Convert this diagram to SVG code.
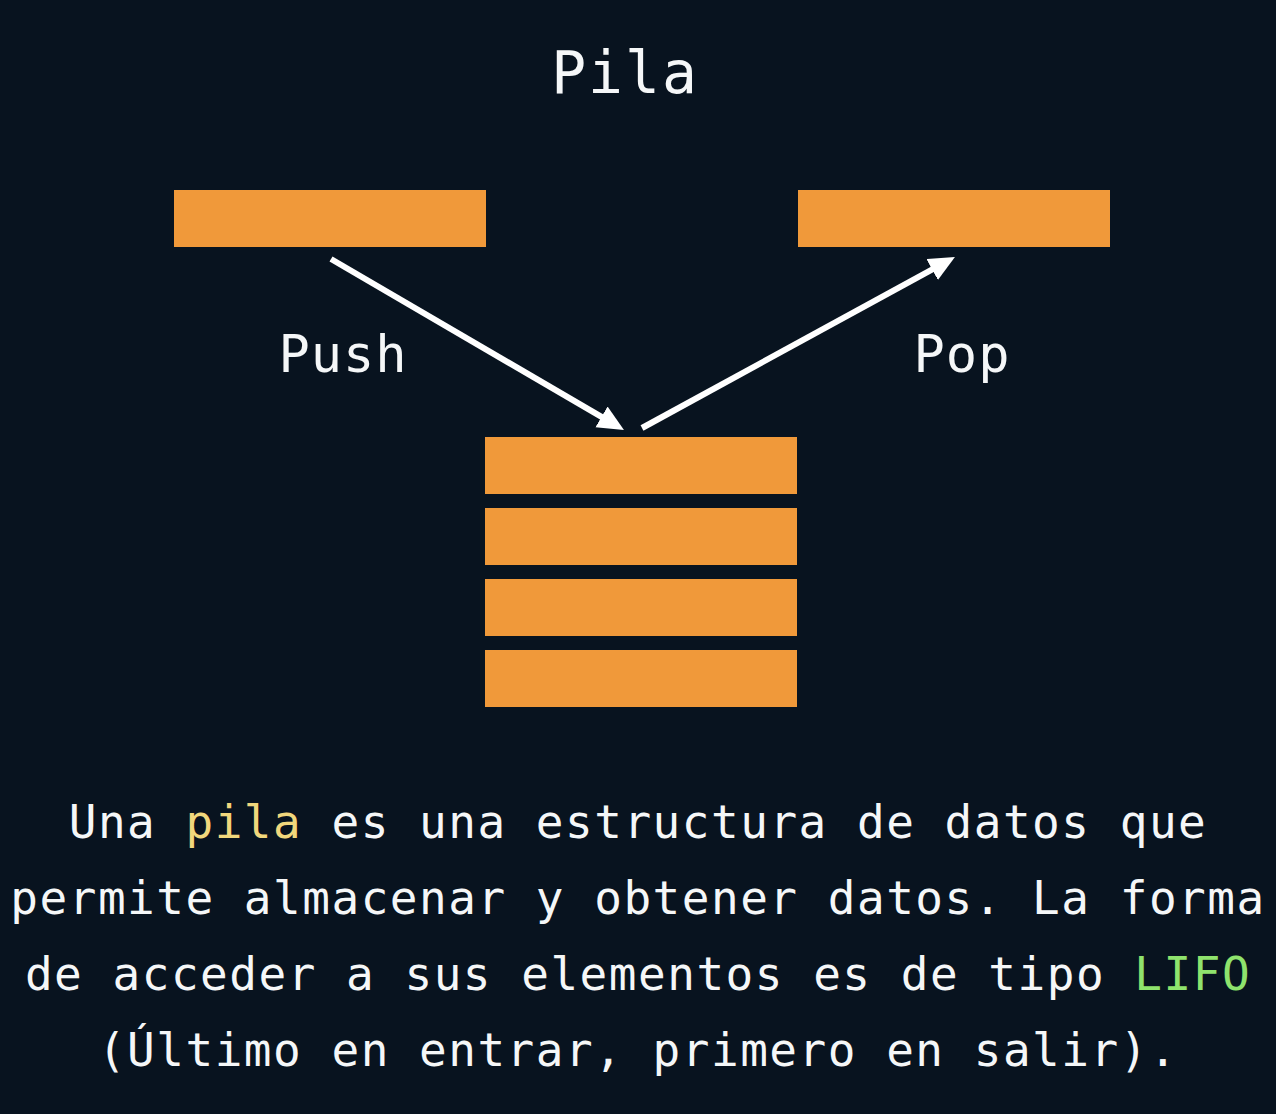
<svg xmlns="http://www.w3.org/2000/svg" width="1276" height="1114" viewBox="0 0 1276 1114">
  <style>
    .bar { fill: #f0993a; }
    .mono { font-family: "DejaVu Sans Mono", "Liberation Mono", monospace; fill: #f5f7f8; }
    .title { font-size: 58px; letter-spacing: 2px; }
    .lbl { font-size: 52px; letter-spacing: 1px; }
    .body { font-size: 46px; letter-spacing: 1.5px; }
    .conn { stroke: #ffffff; stroke-width: 6; fill: none; }
    .hl-y { fill: #f1d77c; }
    .hl-g { fill: #8fe36d; }
  </style>
  <defs>
    <marker id="ah" markerUnits="userSpaceOnUse" markerWidth="28" markerHeight="26" refX="6" refY="12" orient="auto">
      <path d="M0,0 L26,12 L0,24 z" fill="#ffffff"/>
    </marker>
  </defs>
  <rect width="1276" height="1114" fill="#08131f"/>

  <text class="mono title" x="625" y="93" text-anchor="middle">Pila</text>

  <g id="push-item"><rect class="bar" x="174" y="190" width="312" height="57"/></g>
  <g id="pop-item"><rect class="bar" x="798" y="190" width="312" height="57"/></g>
  <g id="stack">
    <rect class="bar" x="485" y="437" width="312" height="57"/>
    <rect class="bar" x="485" y="508" width="312" height="57"/>
    <rect class="bar" x="485" y="579" width="312" height="57"/>
    <rect class="bar" x="485" y="650" width="312" height="57"/>
  </g>

  <g id="connectors">
    <line class="conn" x1="331" y1="259" x2="606.7" y2="419.9" marker-end="url(#ah)"/>
    <line class="conn" x1="642" y1="428" x2="937.4" y2="266.6" marker-end="url(#ah)"/>
  </g>

  <text class="mono lbl" x="343" y="372" text-anchor="middle">Push</text>
  <text class="mono lbl" x="962" y="372" text-anchor="middle">Pop</text>

  <g id="description">
    <text class="mono body" x="638" y="838" text-anchor="middle">Una <tspan class="hl-y">pila</tspan> es una estructura de datos que</text>
    <text class="mono body" x="638" y="914" text-anchor="middle">permite almacenar y obtener datos. La forma</text>
    <text class="mono body" x="638" y="990" text-anchor="middle">de acceder a sus elementos es de tipo <tspan class="hl-g">LIFO</tspan></text>
    <text class="mono body" x="638" y="1066" text-anchor="middle">(Último en entrar, primero en salir).</text>
  </g>
</svg>
